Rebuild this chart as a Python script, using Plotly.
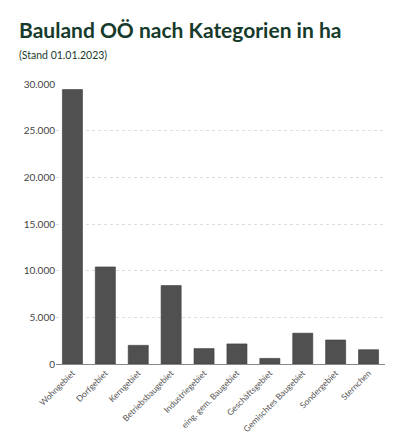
import plotly.graph_objects as go

# Bauland OÖ nach Kategorien (ha), Stand 01.01.2023
kategorien = ["Wohngebiet", "Dorfgebiet", "Kerngebiet", "Betriebsbaugebiet",
              "Industriegebiet", "eing. gem. Baugebiet", "Geschäftsgebiet",
              "Gemischtes Baugebiet", "Sondergebiet", "Sternchen"]
flaeche_ha = [29400, 10400, 2000, 8400, 1650, 2150, 600, 3300, 2570, 1530]
y_ticks = [0, 5000, 10000, 15000, 20000, 25000, 30000]

gruen = "#163a2b"

fig = go.Figure(go.Bar(
    x=kategorien,
    y=flaeche_ha,
    marker=dict(color="#505050", line=dict(color="#3a3a3a", width=0.6)),
))

# the page body adds 8px, so the figure is a bit smaller than the window
fig.update_layout(
    width=400, height=430,
    margin=dict(l=48, r=23, t=76, b=74),
    paper_bgcolor="white", plot_bgcolor="white",
    font=dict(family="Lato, Open Sans, sans-serif", color="#444444", size=9),
    separators=",.",
    bargap=0.39,
    showlegend=False,
)
fig.update_xaxes(
    tickangle=-45, tickfont=dict(size=8.5, color="#555555"),
    showline=True, linecolor="#888888", linewidth=1,
    showgrid=False, ticks="", automargin=False,
)
fig.update_yaxes(
    range=[0, 30000], tickvals=y_ticks, tickformat=",d",
    tickfont=dict(size=10, color="#444444"),
    showgrid=True, gridcolor="#dddddd", griddash="dot", gridwidth=1,
    zeroline=False, ticks="", showline=False, automargin=False,
)

fig.add_annotation(text="<b>Bauland OÖ nach Kategorien in ha</b>",
                   xref="paper", yref="paper", x=-39 / 329, y=1 + 40 / 280,
                   xanchor="left", yanchor="bottom", showarrow=False,
                   font=dict(size=21, color=gruen, family="Lato, sans-serif"))
fig.add_annotation(text="(Stand 01.01.2023)",
                   xref="paper", yref="paper", x=-39 / 329, y=1 + 21 / 280,
                   xanchor="left", yanchor="bottom", showarrow=False,
                   font=dict(size=10.5, color=gruen, family="Lato, sans-serif"))

fig.write_html("out.html")
